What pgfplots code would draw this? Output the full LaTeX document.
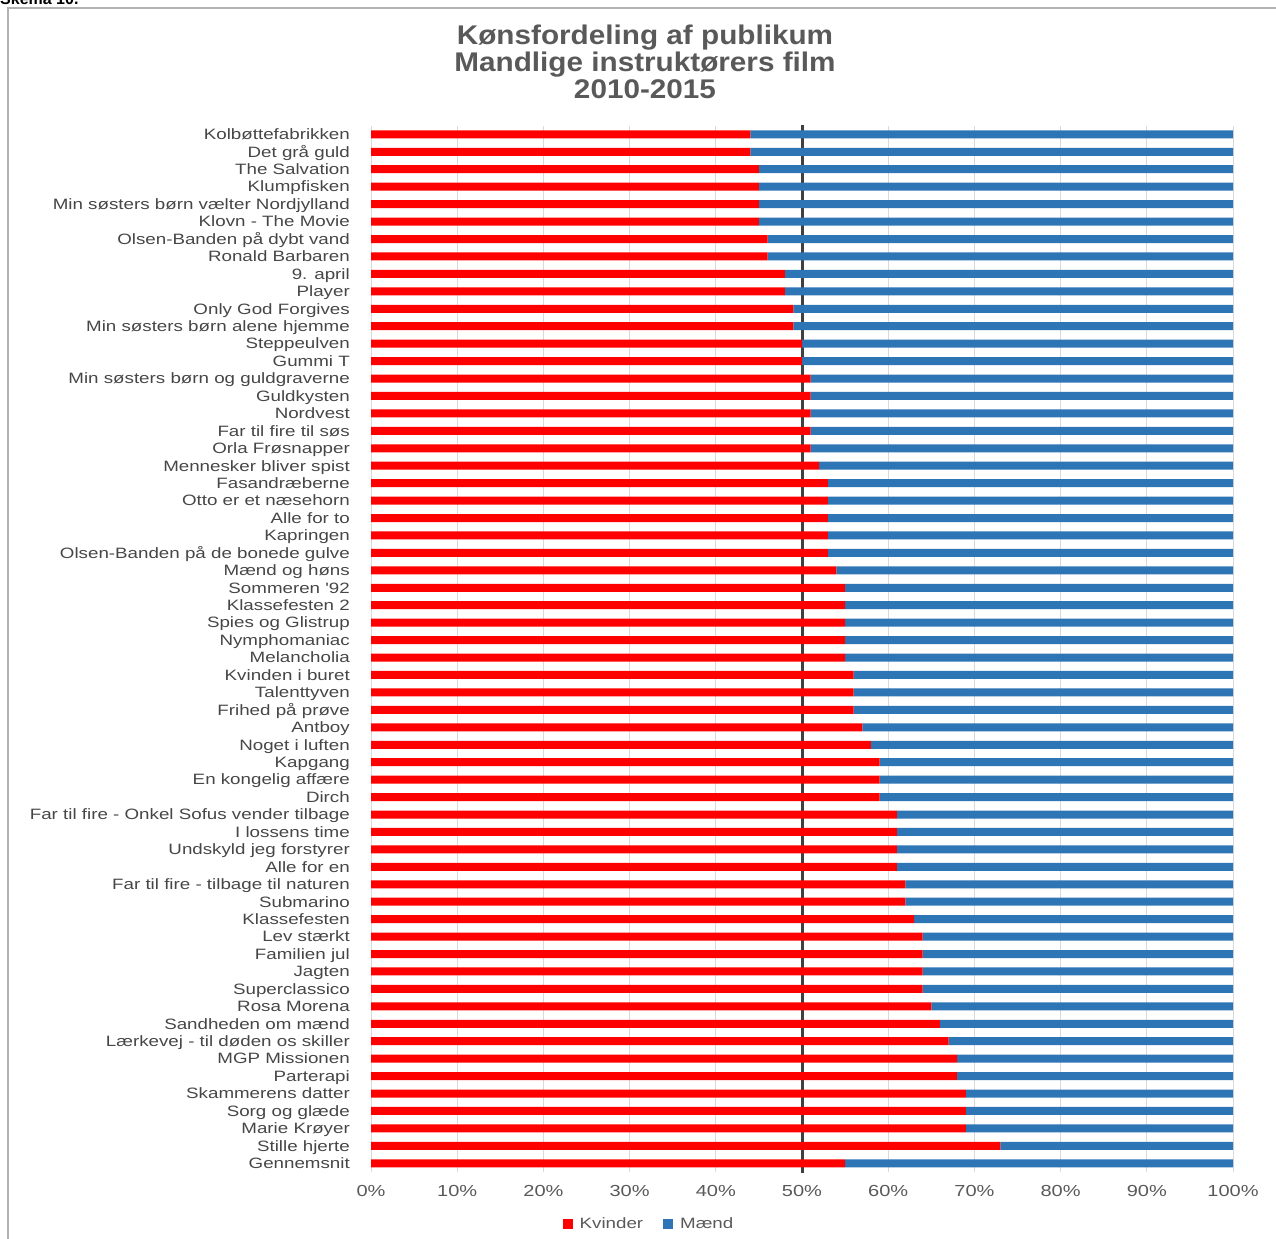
\documentclass[border=0pt]{standalone}
\usepackage{pgfplots}
\pgfplotsset{compat=1.18}
\usepackage{pgfplotstable}
\usepackage{fontspec}
\setmainfont{Liberation Sans}
\newfontfamily\lblfont{Liberation Sans}[FakeStretch=1.25]
\newfontfamily\titlefont{Liberation Sans}[FakeStretch=1.1]

\definecolor{kvred}{RGB}{255,0,0}
\definecolor{mblue}{RGB}{46,117,182}
\definecolor{gridgray}{RGB}{217,217,217}
\definecolor{txtgray}{RGB}{89,89,89}
\definecolor{lblgray}{RGB}{70,70,70}
\definecolor{linegray}{RGB}{64,64,64}

% idx = row from the top, kv = Kvinder (%), ma = Maend (%)
\pgfplotstableread{
idx kv ma
0 44 56
1 44 56
2 45 55
3 45 55
4 45 55
5 45 55
6 46 54
7 46 54
8 48 52
9 48 52
10 49 51
11 49 51
12 50 50
13 50 50
14 51 49
15 51 49
16 51 49
17 51 49
18 51 49
19 52 48
20 53 47
21 53 47
22 53 47
23 53 47
24 53 47
25 54 46
26 55 45
27 55 45
28 55 45
29 55 45
30 55 45
31 56 44
32 56 44
33 56 44
34 57 43
35 58 42
36 59 41
37 59 41
38 59 41
39 61 39
40 61 39
41 61 39
42 61 39
43 62 38
44 62 38
45 63 37
46 64 36
47 64 36
48 64 36
49 64 36
50 65 35
51 66 34
52 67 33
53 68 32
54 68 32
55 69 31
56 69 31
57 69 31
58 73 27
59 55 45
}\films

\begin{document}
\begin{tikzpicture}
\path[use as bounding box] (0bp,0bp) rectangle (1276bp,-1239bp);
\begin{scope}
\clip (0bp,0bp) rectangle (1276bp,-1239bp);
\node[anchor=base west, inner sep=0pt, font=\bfseries\fontsize{16bp}{18bp}\selectfont] at (0bp,-4bp) {Skema 10.};
\end{scope}
\draw[gray!60, line width=1.2bp] (8bp,-1239bp) -- (8bp,-8bp) -- (1276bp,-8bp);

\node[anchor=base, inner sep=0pt, text=txtgray, font=\titlefont\bfseries\fontsize{27bp}{30bp}\selectfont] at (645bp,-44bp) {Kønsfordeling af publikum};
\node[anchor=base, inner sep=0pt, text=txtgray, font=\titlefont\bfseries\fontsize{27bp}{30bp}\selectfont] at (645bp,-71bp) {Mandlige instruktørers film};
\node[anchor=base, inner sep=0pt, text=txtgray, font=\titlefont\bfseries\fontsize{27bp}{30bp}\selectfont] at (645bp,-98bp) {2010-2015};

\begin{axis}[
  at={(371bp,-1172bp)}, anchor=south west,
  scale only axis, width=862bp, height=1046.4bp,
  xbar stacked, bar width=8bp,
  xmin=0, xmax=100, ymin=-0.5, ymax=59.5, y dir=reverse,
  xtick={0,10,...,100},
  xticklabels={0\%,10\%,20\%,30\%,40\%,50\%,60\%,70\%,80\%,90\%,100\%},
  ytick={0,...,59},
  yticklabels={Kolbøttefabrikken,Det grå guld,The Salvation,Klumpfisken,Min søsters børn vælter Nordjylland,Klovn - The Movie,Olsen-Banden på dybt vand,Ronald Barbaren,9. april,Player,Only God Forgives,Min søsters børn alene hjemme,Steppeulven,Gummi T,Min søsters børn og guldgraverne,Guldkysten,Nordvest,Far til fire til søs,Orla Frøsnapper,Mennesker bliver spist,Fasandræberne,Otto er et næsehorn,Alle for to,Kapringen,Olsen-Banden på de bonede gulve,Mænd og høns,Sommeren '92,Klassefesten 2,Spies og Glistrup,Nymphomaniac,Melancholia,Kvinden i buret,Talenttyven,Frihed på prøve,Antboy,Noget i luften,Kapgang,En kongelig affære,Dirch,Far til fire - Onkel Sofus vender tilbage,I lossens time,Undskyld jeg forstyrer,Alle for en,Far til fire - tilbage til naturen,Submarino,Klassefesten,Lev stærkt,Familien jul,Jagten,Superclassico,Rosa Morena,Sandheden om mænd,Lærkevej - til døden os skiller,MGP Missionen,Parterapi,Skammerens datter,Sorg og glæde,Marie Krøyer,Stille hjerte,Gennemsnit},
  xmajorgrids, grid style={gridgray, line width=1bp},
  axis line style={draw=none}, major tick length=0pt,
  xticklabel style={font=\lblfont\fontsize{16bp}{18bp}\selectfont, text=txtgray, inner sep=0pt, anchor=base, yshift=-24bp},
  yticklabel style={font=\lblfont\fontsize{15bp}{17bp}\selectfont, text=lblgray, inner sep=0pt, anchor=base east, xshift=-21bp, yshift=-5.3bp},
  legend columns=2,
  legend style={at={(0.3225,-0.0497)}, anchor=center, draw=none, fill=none,
    font=\lblfont\fontsize{15bp}{17bp}\selectfont, text=txtgray, inner sep=0pt,
    /tikz/every odd column/.append style={column sep=5bp},
    /tikz/every even column/.append style={column sep=18bp}},
]
\addplot[fill=kvred, draw=none, legend image code/.code={\fill[kvred] (0bp,-5bp) rectangle (10bp,5bp);}] table[x=kv, y=idx] {\films};
\addlegendentry{Kvinder}
\addplot[fill=mblue, draw=none, legend image code/.code={\fill[mblue] (0bp,-5bp) rectangle (10bp,5bp);}] table[x=ma, y=idx] {\films};
\addlegendentry{Mænd}
\draw[linegray, line width=3bp] (axis cs:50,-1.05) -- (axis cs:50,60.0);
\end{axis}
\end{tikzpicture}
\end{document}
